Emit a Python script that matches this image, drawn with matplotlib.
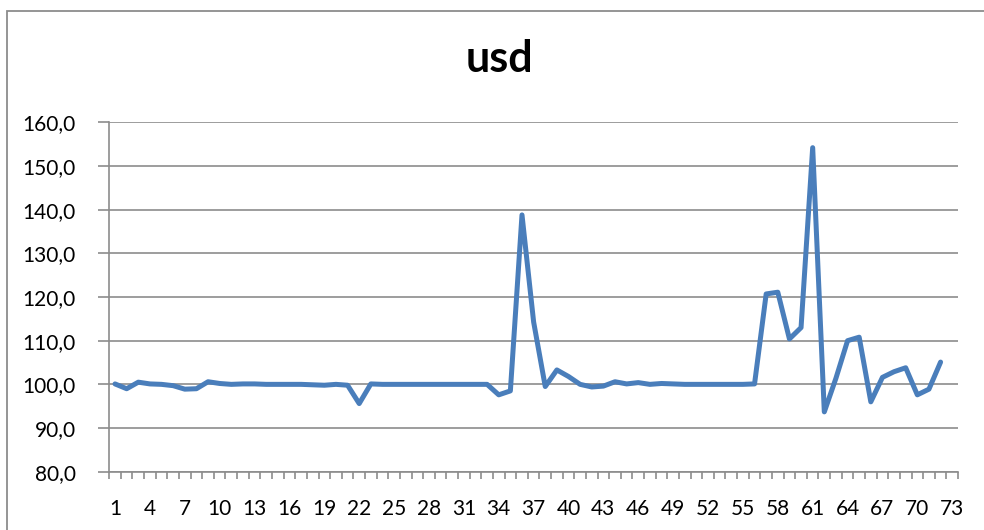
import numpy as np
import matplotlib.pyplot as plt
from matplotlib.patches import Rectangle

plt.rcParams['font.family'] = ['Lato', 'DejaVu Sans']

# usd index, one value per period
periods = list(range(1, 73))
usd = [
    100.1, 99.0, 100.5, 100.1, 100.0, 99.7, 98.9, 99.0, 100.6, 100.2,
    100.0, 100.1, 100.1, 100.0, 100.0, 100.0, 100.0, 99.9, 99.8, 100.0,
    99.8, 95.6, 100.1, 100.0, 100.0, 100.0, 100.0, 100.0, 100.0, 100.0,
    100.0, 100.0, 100.0, 97.6, 98.5, 138.8, 114.3, 99.5, 103.3, 101.8,
    100.0, 99.4, 99.6, 100.6, 100.1, 100.4, 100.0, 100.2, 100.1, 100.0,
    100.0, 100.0, 100.0, 100.0, 100.0, 100.1, 120.7, 121.1, 110.4, 113.0,
    154.2, 93.7, 101.4, 110.0, 110.8, 96.0, 101.6, 102.9, 103.8, 97.6,
    98.9, 105.1,
]
n_categories = 73
x_labels = list(range(1, n_categories + 1, 3))
y_ticks = [80, 90, 100, 110, 120, 130, 140, 150, 160]

fig = plt.figure(figsize=(9.84, 5.30), dpi=100)
ax = fig.add_axes([0.111, 0.110, 0.8626, 0.6592])

# chart area frame
fig.patches.append(Rectangle((7 / 984, -0.1), 1.2, 1 - 11 / 530 + 0.1,
                             transform=fig.transFigure, fill=False,
                             edgecolor='#8c8c8c', linewidth=1.3))

ax.plot(periods, usd, color='#4a7ebb', linewidth=3.6,
        solid_joinstyle='round', solid_capstyle='round', zorder=3)

ax.set_xlim(0.5, n_categories + 0.5)
ax.set_ylim(80, 160)
ax.set_yticks(y_ticks)
ax.set_yticklabels([f'{v:.1f}'.replace('.', ',') for v in y_ticks])
ax.set_xticks(x_labels)
ax.set_xticklabels([str(v) for v in x_labels])
ax.set_xticks(np.arange(0.5, n_categories + 1), minor=True)

ax.grid(axis='y', color='#8c8c8c', linewidth=1.2)
ax.set_axisbelow(True)
for side in ['top', 'right']:
    ax.spines[side].set_visible(False)
for side in ['left', 'bottom']:
    ax.spines[side].set_color('#8c8c8c')
    ax.spines[side].set_linewidth(1.2)

ax.tick_params(axis='y', length=8, width=1.2, color='#8c8c8c',
               labelsize=15, pad=16)
ax.tick_params(axis='x', which='major', length=0, labelsize=15, pad=20)
ax.tick_params(axis='x', which='minor', length=5, width=1.2, color='#8c8c8c')

fig.text(0.508, 0.888, 'usd', ha='center', va='center',
         fontsize=31, fontweight='bold')

fig.savefig('out.png', dpi=100)
